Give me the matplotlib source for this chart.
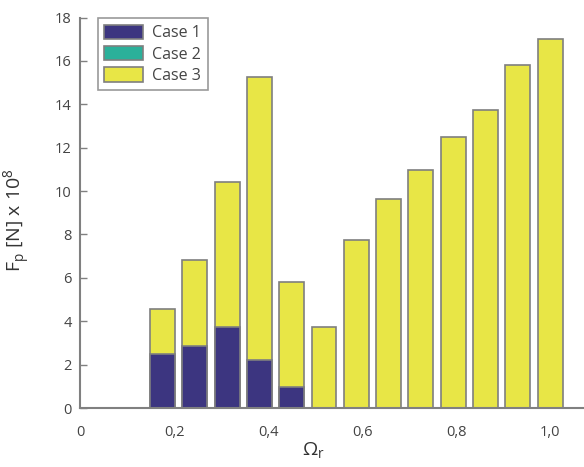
import matplotlib
matplotlib.use("Agg")
import matplotlib.pyplot as plt
from matplotlib.ticker import FuncFormatter

omega = [0.175, 0.244, 0.313, 0.381, 0.450, 0.519, 0.588, 0.656, 0.725, 0.794, 0.863, 0.931, 1.000]
case1 = [2.50, 2.86, 3.73, 2.23, 0.97, 0, 0, 0, 0, 0, 0, 0, 0]
case2 = [0, 0, 0, 0, 0, 0, 0, 0, 0, 0, 0, 0, 0]
case3 = [4.56, 6.82, 10.41, 15.28, 5.81, 3.72, 7.73, 9.63, 10.98, 12.49, 13.72, 15.79, 17.00]
labels = ["Case 1", "Case 2", "Case 3"]
xticks = [0, 0.2, 0.4, 0.6, 0.8, 1.0]
yticks = [0, 2, 4, 6, 8, 10, 12, 14, 16, 18]

plt.rcParams['font.family'] = ['Open Sans', 'DejaVu Sans']
plt.rcParams['mathtext.fontset'] = 'custom'
plt.rcParams['mathtext.rm'] = 'Open Sans'

fig = plt.figure(figsize=(5.84, 4.67), dpi=100)
ax = fig.add_axes([80/584, 59/467, 503/584, (408-17.5)/467])

w = 0.053
ec = '#7f7f7f'
c1, c2, c3 = '#3c3580', '#2bb09a', '#e8e646'
b3 = ax.bar(omega, case3, width=w, color=c3, edgecolor=ec, linewidth=1.2, label=labels[2])
b2 = ax.bar(omega, case2, width=w, color=c2, edgecolor=ec, linewidth=1.2, label=labels[1])
b1 = ax.bar(omega, case1, width=w, color=c1, edgecolor=ec, linewidth=1.2, label=labels[0])

ax.set_xlim(0, 1.070)
ax.set_ylim(0, 18)
ax.set_xticks(xticks)
ax.set_yticks(yticks)
ax.xaxis.set_major_formatter(FuncFormatter(lambda v, p: "0" if v == 0 else f"{v:.1f}".replace('.', ',')))
for s in ['top', 'right']:
    ax.spines[s].set_visible(False)
for s in ['left', 'bottom']:
    ax.spines[s].set_color('#808080')
    ax.spines[s].set_linewidth(1.5)
ax.tick_params(axis='x', length=0, pad=12, labelsize=10.5, labelcolor='#444444')
ax.tick_params(axis='y', direction='in', length=5, width=1, color='#808080', pad=6,
               labelsize=10.5, labelcolor='#444444')

ax.set_ylabel(r"F$_\mathrm{p}$ [N] x 10$^8$", fontsize=14, color='#333333')
ax.yaxis.set_label_coords(-0.094, 0.48)
ax.set_xlabel(r"$\Omega_\mathrm{r}$", fontsize=14, color='#333333')
ax.xaxis.set_label_coords((313-80)/503, -0.085)

leg = ax.legend(handles=[b1, b2, b3], labels=labels, loc='upper left',
                bbox_to_anchor=(18/503, 0.998), fontsize=11.5, frameon=True, fancybox=False,
                handlelength=2.4, handleheight=1.0, borderpad=0.4, labelspacing=0.3,
                handletextpad=0.6, borderaxespad=0)
leg.get_frame().set_edgecolor('#808080')
leg.get_frame().set_linewidth(1.2)
for t in leg.get_texts():
    t.set_color('#444444')

fig.savefig("out.png", dpi=100)
